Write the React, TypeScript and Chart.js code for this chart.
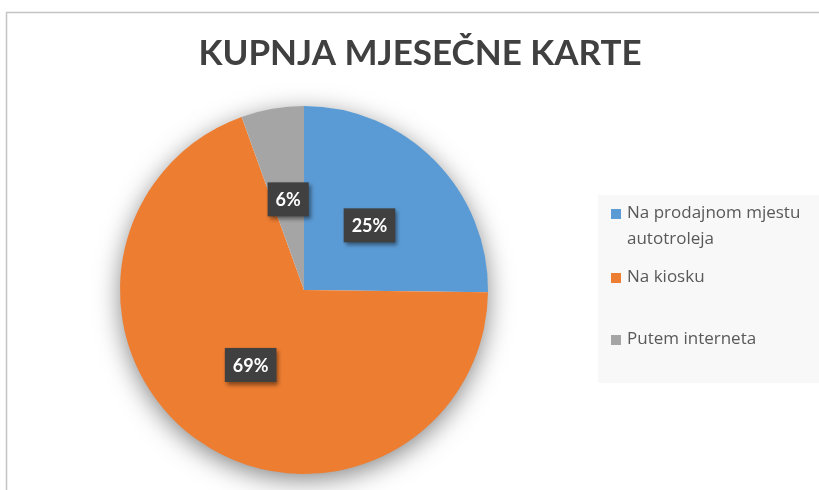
import { useEffect, useRef } from 'react';
import { Chart, registerables } from 'chart.js';

Chart.register(...registerables);

const titleText = 'KUPNJA MJESEČNE KARTE';
const categories = ['Na prodajnom mjestu autotroleja', 'Na kiosku', 'Putem interneta'];
const legendLines = [['Na prodajnom mjestu', 'autotroleja'], ['Na kiosku'], ['Putem interneta']];
const values = [25.2, 69.3, 5.5];
const colors = ['#5B9BD5', '#ED7D31', '#A5A5A5'];

// layout constants
const LEGEND_ITEM_Y = [213, 277, 339];
const LEGEND_LINE_H = 26;

const decorPlugin = {
  id: 'decor',
  beforeDraw(chart: any) {
    const ctx = chart.ctx;
    const w = chart.width;
    const h = chart.height;
    ctx.save();
    ctx.fillStyle = '#ffffff';
    ctx.fillRect(0, 0, w, h);
    // frame
    ctx.strokeStyle = '#C4C4C4';
    ctx.lineWidth = 1.5;
    ctx.beginPath();
    ctx.moveTo(6.5, h);
    ctx.lineTo(6.5, 12.5);
    ctx.lineTo(w, 12.5);
    ctx.stroke();
    // title
    ctx.fillStyle = '#404040';
    ctx.font = 'bold 35px Lato';
    ctx.textAlign = 'center';
    ctx.textBaseline = 'alphabetic';
    ctx.fillText(titleText, 420, 65);
    // legend box
    ctx.fillStyle = '#F8F8F8';
    ctx.fillRect(598, 195, w - 598, 188);
    ctx.font = '17px "Open Sans"';
    ctx.textAlign = 'left';
    ctx.textBaseline = 'middle';
    legendLines.forEach((lines, i) => {
      const y0 = LEGEND_ITEM_Y[i];
      ctx.fillStyle = colors[i];
      ctx.fillRect(611, y0 - 4, 10, 10);
      ctx.fillStyle = '#595959';
      lines.forEach((t, j) => ctx.fillText(t, 627, y0 + j * LEGEND_LINE_H));
    });
    ctx.restore();
  },
  beforeDatasetsDraw(chart: any) {
    const arc = chart.getDatasetMeta(0).data[0];
    if (!arc) return;
    const ctx = chart.ctx;
    ctx.save();
    ctx.shadowColor = 'rgba(0,0,0,0.5)';
    ctx.shadowBlur = 26;
    ctx.shadowOffsetY = 6;
    ctx.fillStyle = '#ffffff';
    ctx.beginPath();
    ctx.arc(arc.x, arc.y, arc.outerRadius - 1, 0, Math.PI * 2);
    ctx.fill();
    ctx.restore();
  },
  afterDatasetsDraw(chart: any) {
    const ctx = chart.ctx;
    const meta = chart.getDatasetMeta(0);
    const total = values.reduce((a, b) => a + b, 0);
    ctx.save();
    ctx.font = 'bold 18px Lato';
    ctx.textAlign = 'center';
    ctx.textBaseline = 'middle';
    meta.data.forEach((el: any, i: number) => {
      const p = el.getCenterPoint();
      const label = Math.round((values[i] / total) * 100) + '%';
      const tw = ctx.measureText(label).width;
      const bw = tw + 16;
      const bh = 34;
      ctx.save();
      ctx.shadowColor = 'rgba(0,0,0,0.45)';
      ctx.shadowBlur = 4;
      ctx.shadowOffsetX = 2;
      ctx.shadowOffsetY = 3;
      ctx.fillStyle = '#404040';
      ctx.fillRect(p.x - bw / 2, p.y - bh / 2, bw, bh);
      ctx.restore();
      ctx.fillStyle = '#ffffff';
      ctx.fillText(label, p.x, p.y + 1);
    });
    ctx.restore();
  },
};

export default function App() {
  const ref = useRef<HTMLCanvasElement>(null);
  useEffect(() => {
    if (!ref.current) return;
    const chart = new Chart(ref.current, {
      type: 'pie',
      data: {
        labels: categories,
        datasets: [
          {
            data: values,
            backgroundColor: colors,
            borderWidth: 0,
          },
        ],
      },
      options: {
        responsive: false,
        animation: false,
        devicePixelRatio: 1,
        layout: { padding: { left: 120, right: 331, top: 106, bottom: 16 } },
        plugins: {
          legend: { display: false },
          title: { display: false },
          tooltip: { enabled: false },
        },
      },
      plugins: [decorPlugin],
    });
    return () => chart.destroy();
  }, []);
  return (
    <div style={{ position: 'fixed', left: 0, top: 0, width: 819, height: 490 }}>
      <canvas ref={ref} width={819} height={490} style={{ display: 'block' }} />
    </div>
  );
}
